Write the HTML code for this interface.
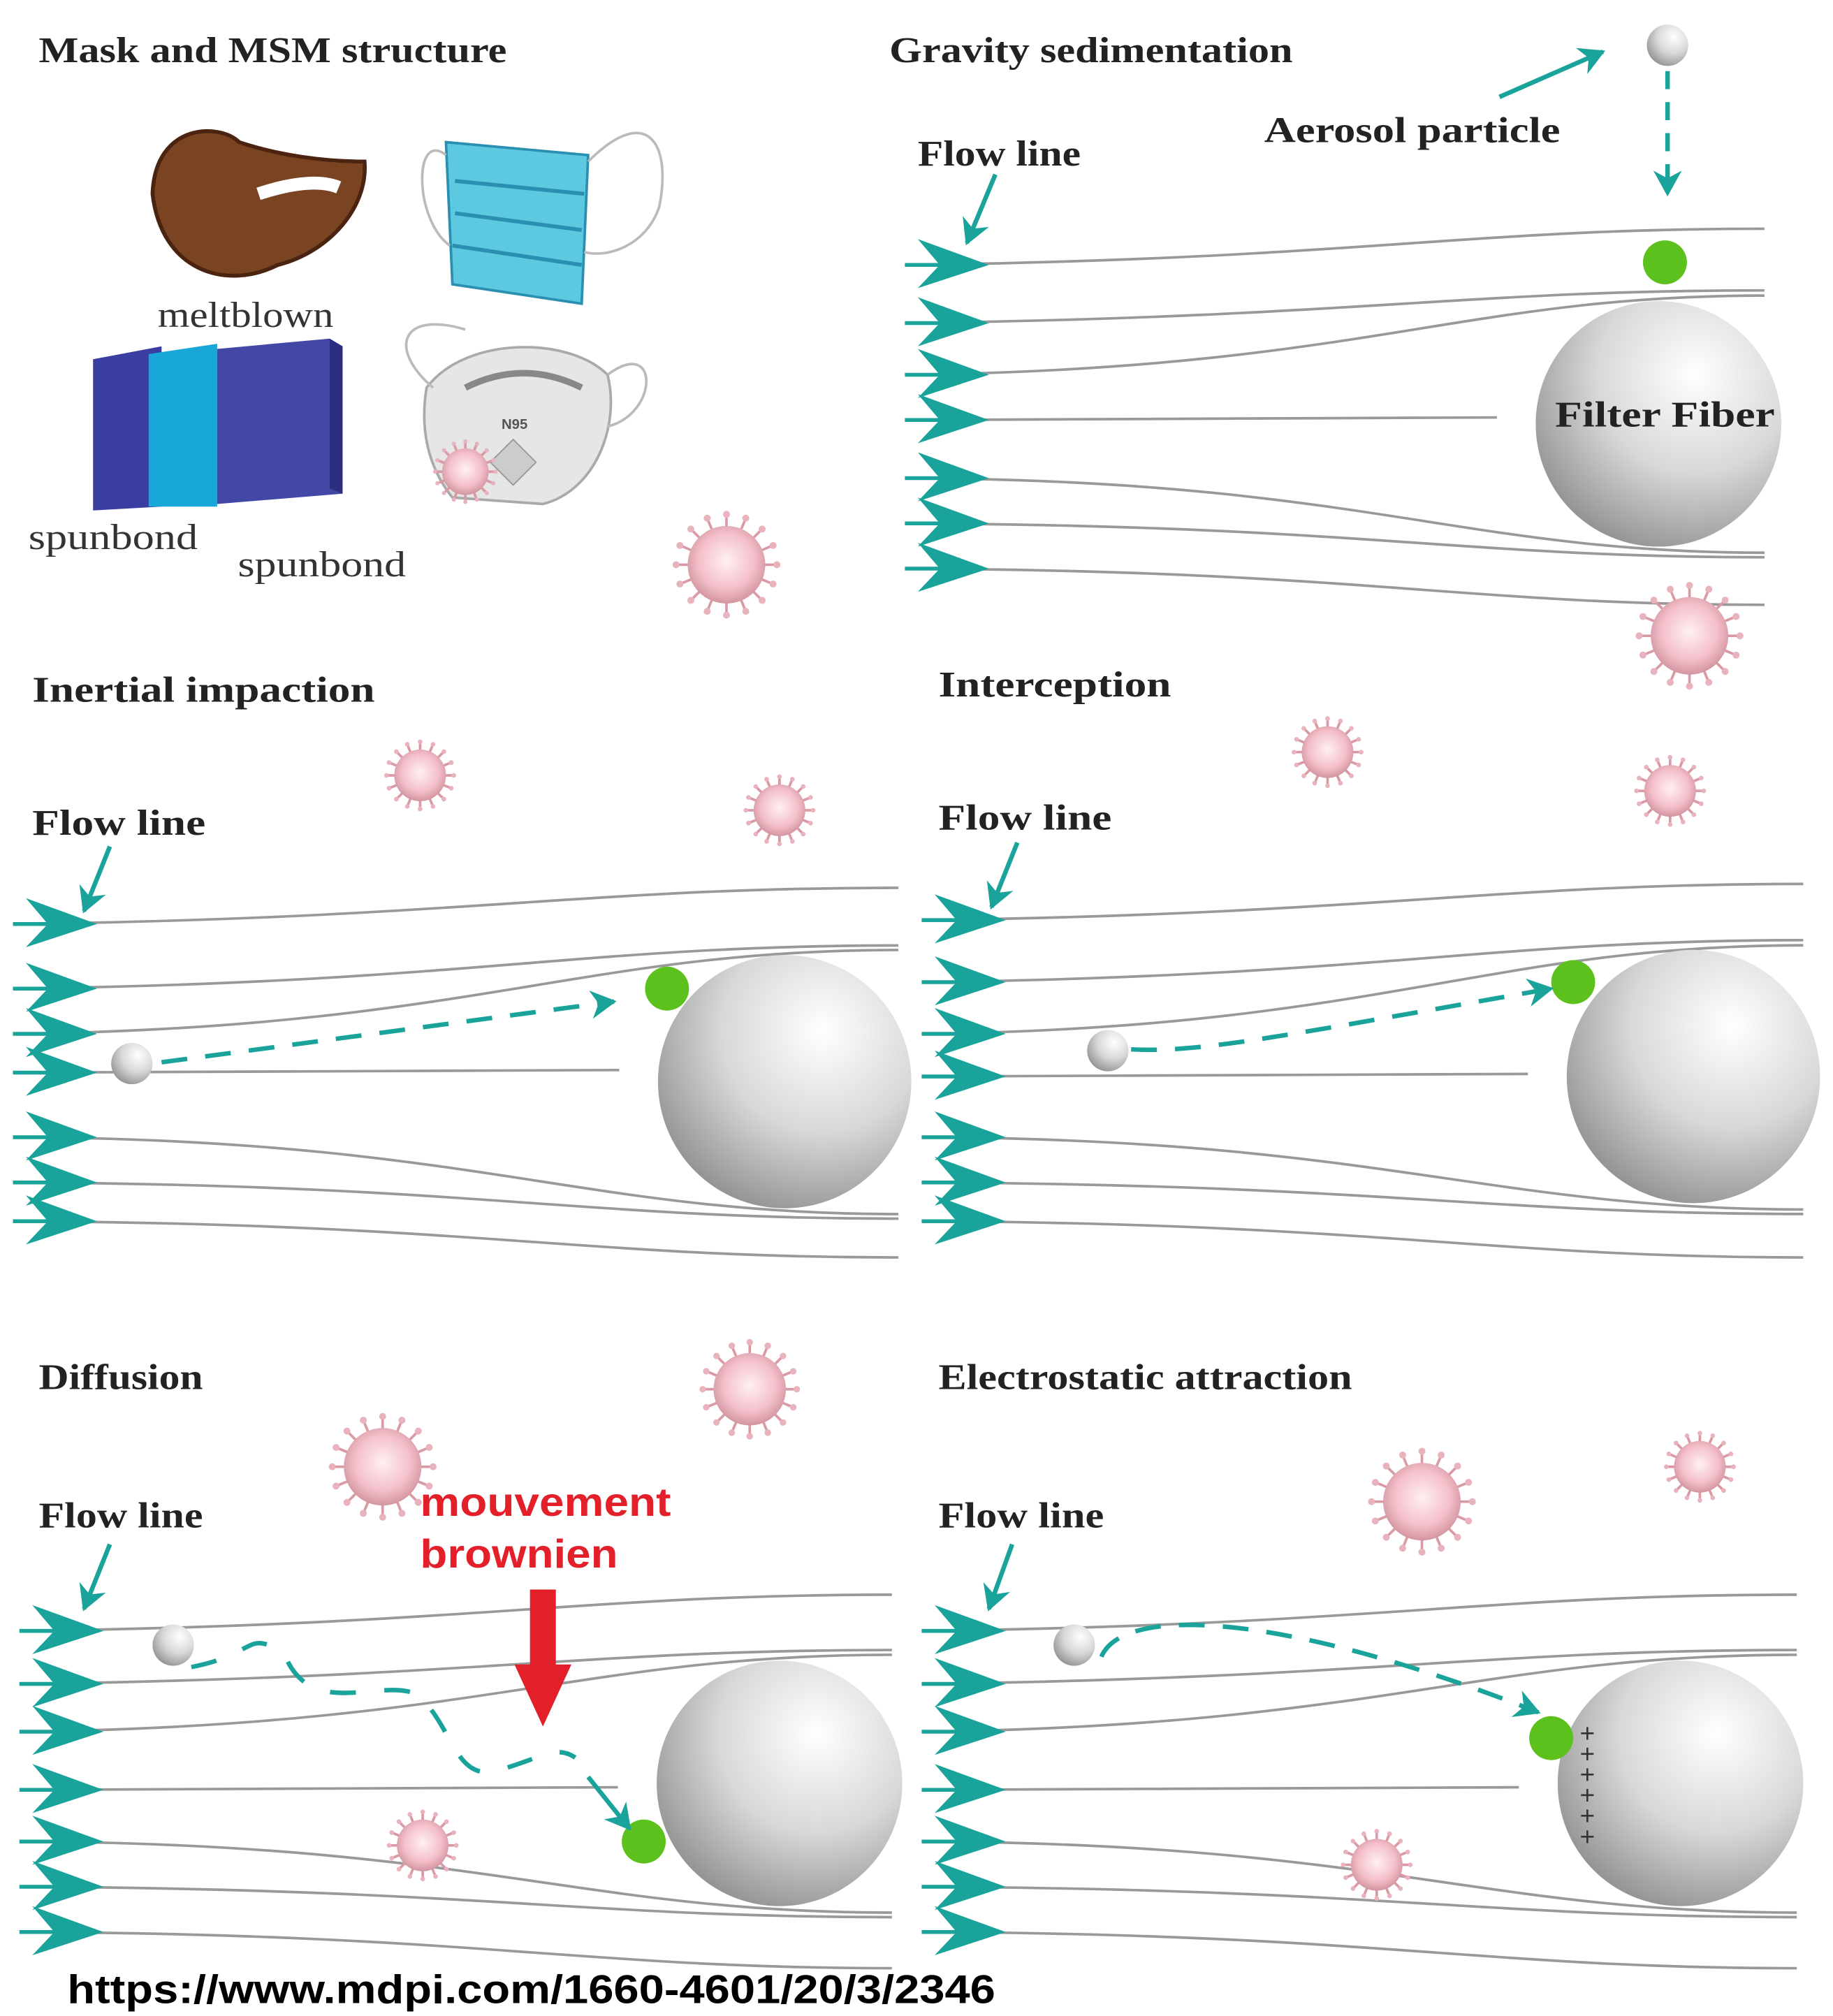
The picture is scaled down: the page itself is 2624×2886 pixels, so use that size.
<!DOCTYPE html>
<html><head><meta charset="utf-8"><style>
html,body{margin:0;padding:0;background:#fff;}
svg{display:block;}
.t{font-family:"Liberation Serif",serif;font-weight:bold;fill:#222;}
.s{font-family:"Liberation Serif",serif;fill:#333;}
</style></head><body>
<svg id="g" xmlns="http://www.w3.org/2000/svg" width="2624" height="2886" viewBox="0 0 1418 1560" preserveAspectRatio="none">
<defs>
<radialGradient id="sph" cx="0.65" cy="0.3" r="0.8">
<stop offset="0" stop-color="#ffffff"/><stop offset="0.5" stop-color="#d8d8d8"/><stop offset="1" stop-color="#8a8a8a"/>
</radialGradient>
<radialGradient id="vir" cx="0.5" cy="0.45" r="0.6">
<stop offset="0" stop-color="#fff0f3"/><stop offset="0.6" stop-color="#f4bfca"/><stop offset="1" stop-color="#c98a95"/>
</radialGradient>
<marker id="ah2" markerWidth="22" markerHeight="22" refX="18" refY="11" orient="auto" markerUnits="userSpaceOnUse"><path d="M0,0 L20,11 L0,22 L6,11 z" fill="#1aa39a"/></marker>
</defs>
<rect width="1418" height="1560" fill="#fff"/>

<text class="t" x="30" y="48" font-size="28" textLength="362" lengthAdjust="spacingAndGlyphs">Mask and MSM structure</text>
<path d="M118,150 C120,95 170,95 185,110 C215,120 250,125 282,125 C285,160 255,195 215,205 C175,225 125,210 118,150 Z" fill="#7a4322" stroke="#4a2410" stroke-width="3"/>
<path d="M200,150 C230,140 250,140 262,145" stroke="#fff" stroke-width="10" fill="none"/>
<path d="M345,110 L455,120 L450,235 L350,220 Z" fill="#5cc9e0" stroke="#2a8fb0" stroke-width="2"/>
<path d="M352,140 L452,150 M352,165 L450,178 M350,190 L450,205" stroke="#2a8fb0" stroke-width="3"/>
<path d="M455,125 C500,80 520,110 510,160 C500,190 470,200 452,195" stroke="#bbb" stroke-width="2" fill="none"/>
<path d="M345,120 C320,100 320,170 348,190" stroke="#bbb" stroke-width="2" fill="none"/>
<path d="M330,300 C360,260 440,260 470,290 C480,330 460,380 420,390 L350,385 C330,360 325,330 330,300 Z" fill="#e6e6e6" stroke="#aaa" stroke-width="2"/>
<path d="M360,300 C390,285 420,285 450,300" stroke="#888" stroke-width="5" fill="none"/>
<text x="388" y="332" font-size="11" font-family="Liberation Sans,sans-serif" font-weight="bold" fill="#555">N95</text>
<rect x="385" y="345" width="25" height="25" fill="#ccc" stroke="#999" transform="rotate(45 397 357)"/>
<path d="M470,290 C510,260 510,320 470,330 M335,300 C300,270 310,240 360,255" stroke="#bbb" stroke-width="2" fill="none"/>
<text class="s" x="122" y="253" font-size="28" textLength="136" lengthAdjust="spacingAndGlyphs">meltblown</text>
<polygon points="72,278 125,268 125,392 72,395" fill="#3a3ea0"/>
<polygon points="115,274 168,266 168,392 115,392" fill="#19a7d8"/>
<polygon points="168,270 255,262 265,268 265,382 168,390" fill="#4348a6"/>
<polygon points="255,262 265,268 265,382 255,378" fill="#2c2f80"/>
<text class="s" x="22" y="425" font-size="28" textLength="131" lengthAdjust="spacingAndGlyphs">spunbond</text>
<text class="s" x="184" y="446" font-size="28" textLength="130" lengthAdjust="spacingAndGlyphs">spunbond</text>

<text class="t" x="688" y="48" font-size="28" textLength="312" lengthAdjust="spacingAndGlyphs">Gravity sedimentation</text>
<text class="t" x="710" y="128" font-size="28" textLength="126" lengthAdjust="spacingAndGlyphs">Flow line</text>
<text class="t" x="978" y="110" font-size="28" textLength="229" lengthAdjust="spacingAndGlyphs">Aerosol  particle</text>
<text class="t" x="25" y="543" font-size="28" textLength="265" lengthAdjust="spacingAndGlyphs">Inertial impaction</text>
<text class="t" x="25" y="646" font-size="28" textLength="134" lengthAdjust="spacingAndGlyphs">Flow line</text>
<text class="t" x="726" y="539" font-size="28" textLength="180" lengthAdjust="spacingAndGlyphs">Interception</text>
<text class="t" x="726" y="642" font-size="28" textLength="134" lengthAdjust="spacingAndGlyphs">Flow line</text>
<text class="t" x="30" y="1075" font-size="28" textLength="127" lengthAdjust="spacingAndGlyphs">Diffusion</text>
<text class="t" x="30" y="1182" font-size="28" textLength="127" lengthAdjust="spacingAndGlyphs">Flow line</text>
<text class="t" x="726" y="1075" font-size="28" textLength="320" lengthAdjust="spacingAndGlyphs">Electrostatic attraction</text>
<text class="t" x="726" y="1182" font-size="28" textLength="128" lengthAdjust="spacingAndGlyphs">Flow line</text>
<g id="dyn"></g>
<text class="t" x="1203" y="330" font-size="28" textLength="170" lengthAdjust="spacingAndGlyphs">Filter Fiber</text>
<text x="325" y="1173" font-size="31" font-family="Liberation Sans,sans-serif" font-weight="bold" fill="#e3202a" textLength="194" lengthAdjust="spacingAndGlyphs">mouvement</text>
<text x="325" y="1213" font-size="31" font-family="Liberation Sans,sans-serif" font-weight="bold" fill="#e3202a" textLength="153" lengthAdjust="spacingAndGlyphs">brownien</text>
<rect x="410" y="1230" width="20" height="60" fill="#e3202a"/>
<polygon points="398,1288 442,1288 420,1336" fill="#e3202a"/>
<text x="52" y="1550" font-size="31" font-family="Liberation Sans,sans-serif" font-weight="bold" fill="#000" textLength="718" lengthAdjust="spacingAndGlyphs">https://www.mdpi.com/1660-4601/20/3/2346</text>
</svg>
<script>
var NS="http://www.w3.org/2000/svg",D=document.getElementById("dyn");
function el(t,a){var e=document.createElementNS(NS,t);for(var k in a)e.setAttribute(k,a[k]);D.appendChild(e);return e;}
var T="#1aa39a";
function panel(x0,xe,ys,cx,cy,r){
 ys.forEach(function(y,i){
  var d;
  if(Math.abs(y-cy)<12){d="M"+x0+","+y+" L"+(cx-r-30)+","+(y-2);}
  else if(y<cy){var yt=(y>cy-r)?Math.min(y-(y-(cy-r))*0.9-10,y-10):y-28;
   d="M"+x0+","+y+" C"+(x0+350)+","+(y-5)+" "+(cx-r*1.6)+","+yt+" "+xe+","+yt;}
  else {var yt=(y<cy+r)?Math.max(y+((cy+r)-y)*0.9+10,y+10):y+28;
   d="M"+x0+","+y+" C"+(x0+350)+","+(y+2)+" "+(cx-r*1.6)+","+yt+" "+xe+","+yt;}
  el("path",{d:d,stroke:"#999",fill:"none","stroke-width":2});
  el("polygon",{points:(x0+5)+","+(y-20)+" "+(x0+60)+","+y+" "+(x0+5)+","+(y+18)+" "+(x0+22)+","+y,fill:T});
  el("line",{x1:x0-5,y1:y,x2:x0+40,y2:y,stroke:T,"stroke-width":3});
 });
 el("circle",{cx:cx,cy:cy,r:r,fill:"url(#sph)"});
}
function arrow(x1,y1,x2,y2){el("path",{d:"M"+x1+","+y1+" L"+x2+","+y2,stroke:T,"stroke-width":3.5,fill:"none","marker-end":"url(#ah2)"});}
function green(x,y){el("circle",{cx:x,cy:y,r:17,fill:"#5cc11c"});}
function small(x,y){el("circle",{cx:x,cy:y,r:16,fill:"url(#sph)"});}
function virus(x,y,r){
 for(var i=0;i<16;i++){var a=i*Math.PI/8;el("line",{x1:x+Math.cos(a)*r*0.8,y1:y+Math.sin(a)*r*0.8,x2:x+Math.cos(a)*r*1.3,y2:y+Math.sin(a)*r*1.3,stroke:"#d99aa6","stroke-width":2});
  el("circle",{cx:x+Math.cos(a)*r*1.3,cy:y+Math.sin(a)*r*1.3,r:r*0.09,fill:"#e9b3bd"});}
 el("circle",{cx:x,cy:y,r:r,fill:"url(#vir)"});
}
panel(705,1365,[205,250,290,325,370,405,440],1283,328,95);
green(1288,203);small(1290,35);
el("path",{d:"M1290,55 L1290,150",stroke:T,"stroke-width":3.5,"stroke-dasharray":"14,10",fill:"none","marker-end":"url(#ah2)"});
arrow(1160,75,1240,40);arrow(770,135,748,188);
panel(15,695,[715,765,800,830,880,915,945],607,837,98);
green(516,765);small(102,823);
el("path",{d:"M125,822 L475,775",stroke:T,"stroke-width":3.5,"stroke-dasharray":"20,14",fill:"none","marker-end":"url(#ah2)"});
arrow(85,655,65,705);
panel(718,1395,[712,760,800,833,880,915,945],1310,833,98);
green(1217,760);small(857,813);
el("path",{d:"M875,812 C930,815 1000,800 1200,765",stroke:T,"stroke-width":3.5,"stroke-dasharray":"20,14",fill:"none","marker-end":"url(#ah2)"});
arrow(787,652,767,702);
panel(20,690,[1262,1303,1340,1385,1425,1460,1495],603,1380,95);
green(498,1425);small(134,1273);
el("path",{d:"M148,1290 C200,1280 190,1260 220,1280 C240,1330 290,1300 320,1310 C350,1330 350,1380 385,1370 C420,1360 430,1350 445,1360",stroke:T,"stroke-width":3.5,"stroke-dasharray":"20,22",fill:"none"});
arrow(455,1375,487,1415);arrow(85,1195,65,1245);
panel(718,1390,[1262,1303,1340,1385,1425,1460,1495],1300,1380,95);
green(1200,1345);small(831,1273);
el("path",{d:"M852,1282 C870,1240 1000,1250 1190,1325",stroke:T,"stroke-width":3.5,"stroke-dasharray":"20,14",fill:"none","marker-end":"url(#ah2)"});
arrow(783,1195,765,1245);
for(var i=0;i<6;i++){var t=el("text",{x:1222,y:1348+i*16,"font-size":20,"font-family":"Liberation Mono,monospace",fill:"#333"});t.textContent="+";}
[[562,437,30],[1307,492,30],[325,600,20],[603,627,20],[1027,582,20],[1292,612,20],[580,1075,28],[296,1135,30],[1100,1162,30],[1315,1135,20],[327,1428,20],[1065,1443,20],[360,365,18]].forEach(function(v){virus(v[0],v[1],v[2]);});
</script>
</body></html>
